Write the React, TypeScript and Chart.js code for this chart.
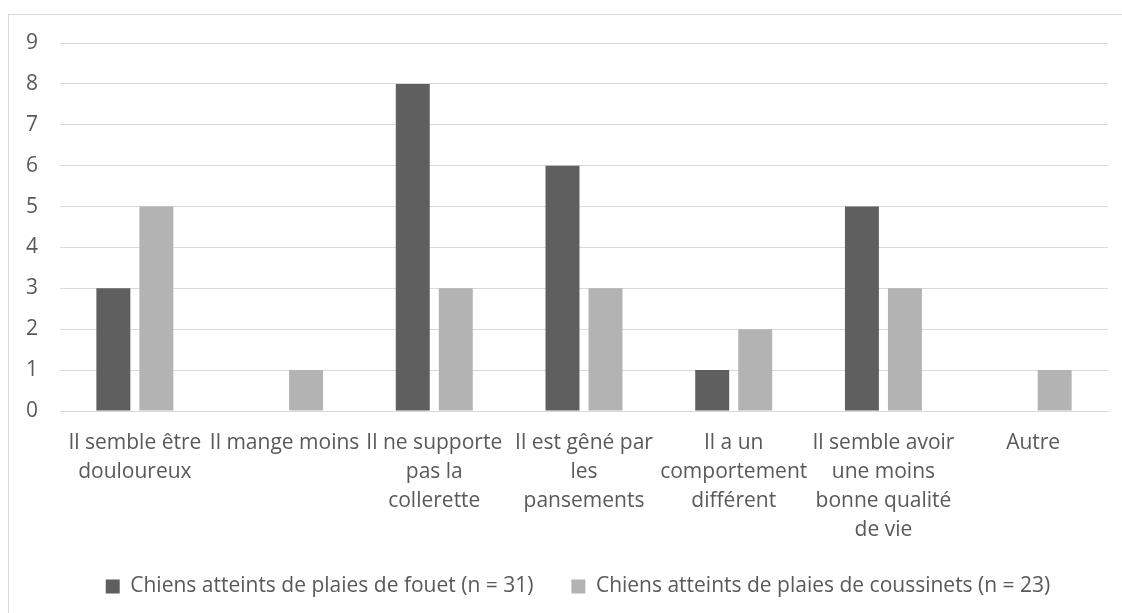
import React, { useEffect, useRef } from "react";
import { Chart, registerables } from "chart.js";

Chart.register(...registerables);

const categories: string[][] = [
  ["Il semble être", "douloureux"],
  ["Il mange moins"],
  ["Il ne supporte", "pas la", "collerette"],
  ["Il est gêné par", "les", "pansements"],
  ["Il a un", "comportement", "différent"],
  ["Il semble avoir", "une moins", "bonne qualité", "de vie"],
  ["Autre"],
];

const seriesFouetLabel = "Chiens atteints de plaies de fouet (n = 31)";
const seriesFouet = [3, 0, 8, 6, 1, 5, 0];

const seriesCoussinetsLabel = "Chiens atteints de plaies de coussinets (n = 23)";
const seriesCoussinets = [5, 1, 3, 3, 2, 3, 1];

const yMin = 0;
const yMax = 9;
const yStep = 1;

const FONT = "'Open Sans', 'Noto Sans', sans-serif";
const TEXT = "#595959";
const GRID = "#d9d9d9";

const borderPlugin = {
  id: "outerBorder",
  beforeDraw(chart: any) {
    const ctx = chart.ctx;
    ctx.save();
    ctx.fillStyle = "#ffffff";
    ctx.fillRect(0, 0, chart.width, chart.height);
    ctx.strokeStyle = GRID;
    ctx.lineWidth = 1;
    ctx.strokeRect(8.5, 14.5, 1400, 1400);
    ctx.restore();
  },
};

export default function App() {
  const ref = useRef<HTMLCanvasElement | null>(null);

  useEffect(() => {
    if (!ref.current) return;
    const chart = new Chart(ref.current, {
      type: "bar",
      data: {
        labels: categories,
        datasets: [
          {
            label: seriesFouetLabel,
            data: seriesFouet,
            backgroundColor: "#5f5f5f",
            borderWidth: 0,
            categoryPercentage: 0.5745,
            barPercentage: 0.79,
          },
          {
            label: seriesCoussinetsLabel,
            data: seriesCoussinets,
            backgroundColor: "#b3b3b3",
            borderWidth: 0,
            categoryPercentage: 0.5745,
            barPercentage: 0.79,
          },
        ],
      },
      options: {
        animation: false,
        responsive: false,
        maintainAspectRatio: false,
        layout: { padding: { left: 48, right: 14, top: 43, bottom: 6 } },
        plugins: {
          tooltip: { enabled: false },
          legend: {
            position: "bottom",
            labels: {
              boxWidth: 14,
              boxHeight: 14,
              padding: 38,
              color: TEXT,
              font: { family: FONT, size: 21 },
            },
          },
        },
        scales: {
          x: {
            grid: { display: false, drawTicks: false },
            border: { display: true, color: GRID },
            ticks: {
              color: TEXT,
              padding: 18,
              maxRotation: 0,
              minRotation: 0,
              autoSkip: false,
              font: { family: FONT, size: 21, lineHeight: 29 / 21 },
            },
            afterFit: (scale: any) => {
              scale.height = 127;
            },
          },
          y: {
            min: yMin,
            max: yMax,
            grid: { color: GRID, lineWidth: 1, drawTicks: false },
            border: { display: false },
            ticks: {
              stepSize: yStep,
              color: TEXT,
              mirror: true,
              padding: -34,
              font: { family: FONT, size: 21 },
            },
            afterFit: (scale: any) => {
              scale.width = 12;
            },
          },
        },
      },
      plugins: [borderPlugin],
    });
    return () => chart.destroy();
  }, []);

  return (
    <div style={{ position: "fixed", left: 0, top: 0, width: 1122, height: 613 }}>
      <canvas ref={ref} width={1122} height={613} style={{ display: "block" }} />
    </div>
  );
}
